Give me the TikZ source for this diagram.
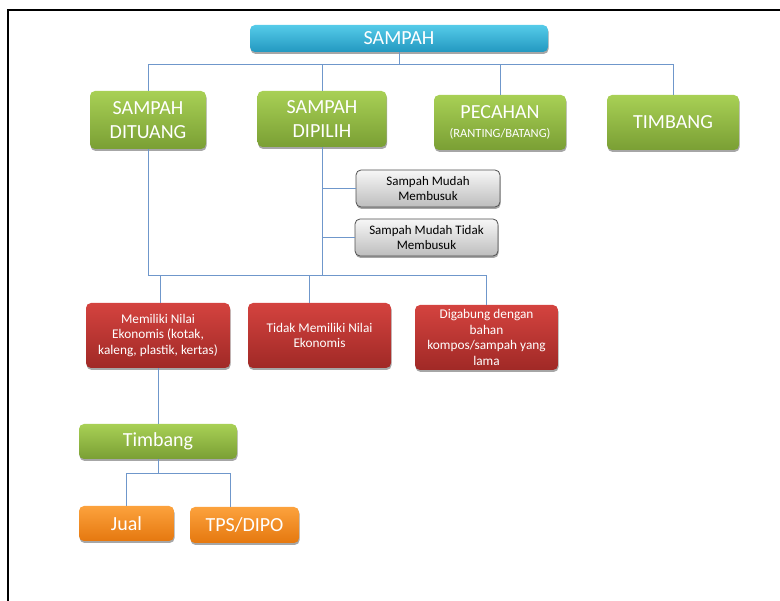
\documentclass[tikz,border=0pt]{standalone}
\usepackage{fontspec}
\setmainfont{Carlito}
\usetikzlibrary{shadows}
\definecolor{cyanT}{HTML}{55CBE9}
\definecolor{cyanB}{HTML}{2398C0}
\definecolor{greenT}{HTML}{A8D055}
\definecolor{greenB}{HTML}{7A9F34}
\definecolor{redT}{HTML}{D4433F}
\definecolor{redB}{HTML}{A02926}
\definecolor{orangeT}{HTML}{FCA23D}
\definecolor{orangeB}{HTML}{E5780F}
\definecolor{grayT}{HTML}{F7F7F7}
\definecolor{grayB}{HTML}{BDBDBD}
\definecolor{grayL}{HTML}{505050}
\definecolor{linkc}{HTML}{6F97CB}
\tikzset{
  box/.style={rounded corners=5pt, inner sep=0pt, align=center, text=white,
    drop shadow={shadow xshift=0.6pt, shadow yshift=-2pt, opacity=0.35, fill=black}},
  big/.style={font=\fontsize{20}{23.5}\selectfont},
  small/.style={font=\fontsize{13.3}{15.5}\selectfont},
  cyanbox/.style={box, big, top color=cyanT, bottom color=cyanB},
  greenbox/.style={box, big, top color=greenT, bottom color=greenB},
  redbox/.style={box, small, top color=redT, bottom color=redB},
  orangebox/.style={box, big, top color=orangeT, bottom color=orangeB},
  graybox/.style={box, font=\fontsize{13}{15.5}\selectfont, text=black, draw=grayL, line width=0.8pt, top color=grayT, bottom color=grayB},
  link/.style={draw=linkc, line width=0.9pt},
}
\begin{document}
\begin{tikzpicture}[x=1pt, y=-1pt]
\useasboundingbox (0,0) rectangle (780,601);
\draw[line width=2pt, line cap=rect] (8,601) -- (8,10) -- (780,10);

\node[cyanbox, minimum width=298pt, minimum height=27pt] (sampah) at (399,38.5) {SAMPAH};
\node[greenbox, minimum width=116pt, minimum height=58pt] (dituang) at (148,120) {SAMPAH\\DITUANG};
\node[greenbox, minimum width=129pt, minimum height=56pt] (dipilih) at (322,119) {SAMPAH\\DIPILIH};
\node[greenbox, minimum width=132pt, minimum height=55pt] (pecahan) at (500,122.5) {PECAHAN\\[-5pt]{\fontsize{12.5}{14}\selectfont (RANTING/BATANG)}};
\node[greenbox, minimum width=132pt, minimum height=55pt] (timbangA) at (673,122.5) {TIMBANG};

\node[graybox, minimum width=144pt, minimum height=37pt] (mudah) at (428,188.5) {Sampah Mudah\\Membusuk};
\node[graybox, minimum width=143pt, minimum height=37pt] (tidakmudah) at (426.5,237.5) {Sampah Mudah Tidak\\Membusuk};

\node[redbox, minimum width=144pt, minimum height=65pt] (memiliki) at (158,335.5) {Memiliki Nilai\\Ekonomis (kotak,\\kaleng, plastik, kertas)};
\node[redbox, minimum width=143pt, minimum height=65pt] (tidaknilai) at (319.5,335.5) {Tidak Memiliki Nilai\\Ekonomis};
\node[redbox, minimum width=143pt, minimum height=65pt] (digabung) at (486.5,337.5) {Digabung dengan\\bahan\\kompos/sampah yang\\lama};

\node[greenbox, minimum width=158pt, minimum height=35pt] (timbangB) at (158,441.5) {Timbang};
\node[orangebox, minimum width=95pt, minimum height=35pt] (jual) at (126.5,523.5) {Jual};
\node[orangebox, minimum width=109pt, minimum height=36pt] (tps) at (244.5,525) {TPS/DIPO};

% level 1
\coordinate (busA) at (0,64);
\draw[link] (sampah.south) -- (sampah.south |- busA);
\draw[link] (dituang.north) |- (busA -| timbangA.north) -- (timbangA.north);
\draw[link] (dipilih.north) -- (dipilih.north |- busA);
\draw[link] (pecahan.north) -- (pecahan.north |- busA);
% branches of dipilih
\draw[link] (mudah.west) -- (mudah.west -| dipilih.south);
\draw[link] (tidakmudah.west) -- (tidakmudah.west -| dipilih.south);
% level 2
\coordinate (busB) at (0,275);
\draw[link] (dipilih.south) -- (dipilih.south |- busB);
\draw[link] (dituang.south) |- (busB -| digabung.north) -- (digabung.north);
\draw[link] ([xshift=2pt]memiliki.north) -- ([xshift=2pt]memiliki.north |- busB);
\draw[link] ([xshift=-10.5pt]tidaknilai.north) -- ([xshift=-10.5pt]tidaknilai.north |- busB);
% level 3
\draw[link] (memiliki.south) -- (timbangB.north);
\coordinate (busC) at (0,473);
\coordinate (tpsIn) at ([xshift=-14.5pt]tps.north);
\draw[link] (timbangB.south) -- (timbangB.south |- busC);
\draw[link] (jual.north) |- (busC -| tpsIn) -- (tpsIn);
\end{tikzpicture}
\end{document}
